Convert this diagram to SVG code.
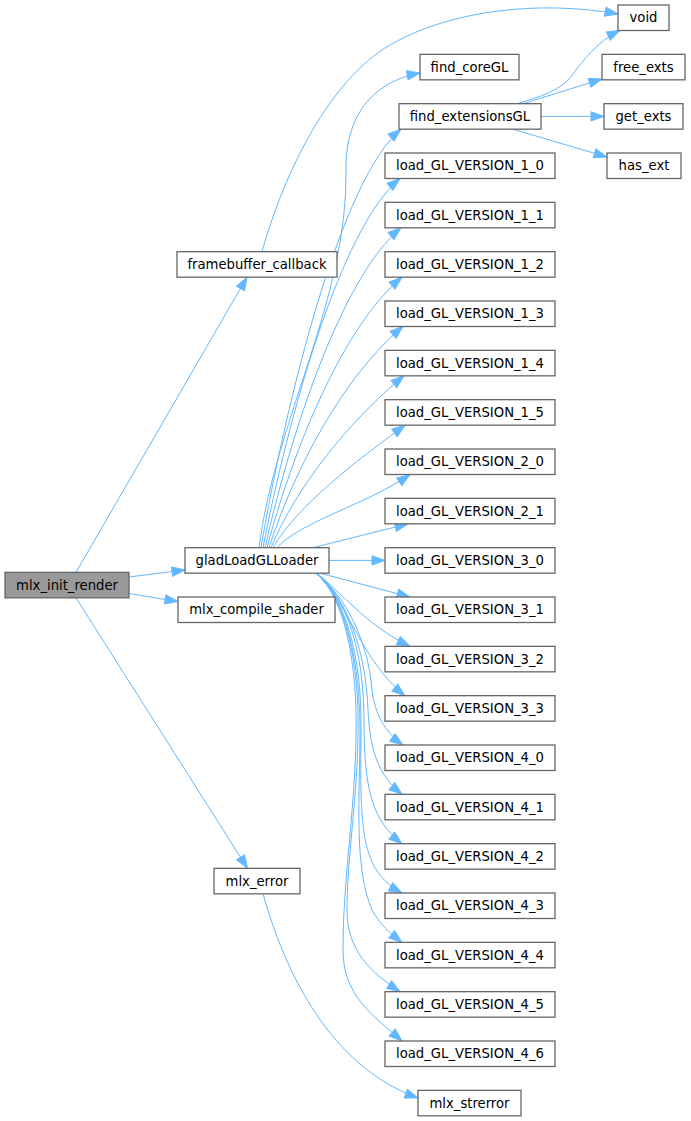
<svg xmlns="http://www.w3.org/2000/svg" width="691" height="1121" viewBox="0 0 691 1121">
<style>
.n rect{fill:#ffffff;stroke:#666666;stroke-width:1.3}
.n.hl rect{fill:#999999}
.n text{font-family:"DejaVu Sans","Liberation Sans",sans-serif;font-size:13.2px;text-anchor:middle;fill:#000000}
.e{fill:none;stroke:#63b8ff;stroke-width:1;marker-end:url(#ah)}
</style>
<defs>
<marker id="ah" markerUnits="userSpaceOnUse" viewBox="0 0 14 10" markerWidth="14" markerHeight="10" refX="13" refY="5" orient="auto" overflow="visible">
<path d="M0,0.4 L13,5 L0,9.6 z" fill="#63b8ff" stroke="#63b8ff" stroke-width="1"/>
</marker>
</defs>
<rect x="0" y="0" width="691" height="1121" fill="#ffffff"/>
<g id="edges">
<path class="e" d="M76,572.3 L247,277.2"/>
<path class="e" d="M129,577 L185,570"/>
<path class="e" d="M129,593.5 L178,601.5"/>
<path class="e" d="M76,597.8 L247.5,868.3"/>
<path class="e" d="M262,251.7 C285,170 330,80 390,45 C450,10 540,0 618,14"/>
<path class="e" d="M517,103.7 C540,97 560,90 570,78 C582,62 596,42 620,30.5"/>
<path class="e" d="M523,103.7 L602,79"/>
<path class="e" d="M541,116.4 L604,116.4"/>
<path class="e" d="M513,129.2 L607,157"/>
<path class="e" d="M259,547.7 C275,420 348,300 346,170 C345,125 365,83 420,73"/>
<path class="e" d="M261,547.7 C286,401 341,179 401,129.2"/>
<path class="e" d="M263,547.7 C288,418.5 340,228.5 400,178.5"/>
<path class="e" d="M265,547.7 C290,436 341,277.8 401,227.8"/>
<path class="e" d="M267,547.7 C292,453 342,327 402,277.2"/>
<path class="e" d="M269,547.7 C294,470 343,376.5 403,326.5"/>
<path class="e" d="M271,547.7 C296,487 350,420 404,375.8"/>
<path class="e" d="M273,547.7 C298,505 355,462 405,425.2"/>
<path class="e" d="M277,547.7 C300,522 365,505 410,474.5"/>
<path class="e" d="M313,547.7 L408,523.8"/>
<path class="e" d="M329,560.4 L385,560.4"/>
<path class="e" d="M320,573.2 L410,597"/>
<path class="e" d="M316,573.2 C340,590 365,625 410,646.3"/>
<path class="e" d="M316,573.2 C345,595 360,660 405,695.7"/>
<path class="e" d="M317,573.2 C345,596 368,640 372,690 C375,715 385,732 403,745"/>
<path class="e" d="M317,573.2 C346,597 366,650 368,710 C370,750 378,775 402,794.3"/>
<path class="e" d="M317,573.2 C346,597 364,650 364,720 C364,790 372,820 402,843.7"/>
<path class="e" d="M316,573.2 C345,597 362,655 361,730 C360,830 360,870 402,893"/>
<path class="e" d="M316,573.2 C345,597 361,660 360,740 C359,810 355,870 372,910 C380,925 390,933 402,942.3"/>
<path class="e" d="M316,573.2 C345,597 360,662 358,740 C356,810 347,860 347,910 C347,950 370,972 400,991.7"/>
<path class="e" d="M316,573.2 C345,597 358,665 356,740 C354,820 343,880 343,950 C343,995 372,1015 402,1041"/>
<path class="e" d="M263,893.8 C290,990 340,1070 418,1098"/>
</g>
<g id="node-mlx_init_render" class="n hl"><rect x="5" y="572.33" width="124" height="25.5"/><text x="67" y="589.6">mlx_init_render</text></g>
<g id="node-framebuffer_callback" class="n"><rect x="177" y="251.67" width="160" height="25.5"/><text x="257" y="269">framebuffer_callback</text></g>
<g id="node-gladLoadGLLoader" class="n"><rect x="185" y="547.67" width="144" height="25.5"/><text x="257" y="565">gladLoadGLLoader</text></g>
<g id="node-mlx_compile_shader" class="n"><rect x="178" y="597" width="157" height="25.5"/><text x="256.5" y="614.3">mlx_compile_shader</text></g>
<g id="node-mlx_error" class="n"><rect x="214" y="868.33" width="86" height="25.5"/><text x="257" y="885.6">mlx_error</text></g>
<g id="node-void" class="n"><rect x="618" y="5" width="51" height="25.5"/><text x="643.5" y="22.3">void</text></g>
<g id="node-find_coreGL" class="n"><rect x="420" y="54.33" width="99" height="25.5"/><text x="469.5" y="71.6">find_coreGL</text></g>
<g id="node-find_extensionsGL" class="n"><rect x="399" y="103.67" width="142" height="25.5"/><text x="470" y="121">find_extensionsGL</text></g>
<g id="node-free_exts" class="n"><rect x="602" y="54.33" width="83" height="25.5"/><text x="643.5" y="71.6">free_exts</text></g>
<g id="node-get_exts" class="n"><rect x="604" y="103.67" width="79" height="25.5"/><text x="643.5" y="121">get_exts</text></g>
<g id="node-has_ext" class="n"><rect x="607" y="153" width="74" height="25.5"/><text x="644" y="170.3">has_ext</text></g>
<g id="node-load_GL_VERSION_1_0" class="n"><rect x="385" y="153" width="170" height="25.5"/><text x="470" y="170.3">load_GL_VERSION_1_0</text></g>
<g id="node-load_GL_VERSION_1_1" class="n"><rect x="385" y="202.33" width="170" height="25.5"/><text x="470" y="219.6">load_GL_VERSION_1_1</text></g>
<g id="node-load_GL_VERSION_1_2" class="n"><rect x="385" y="251.67" width="170" height="25.5"/><text x="470" y="269">load_GL_VERSION_1_2</text></g>
<g id="node-load_GL_VERSION_1_3" class="n"><rect x="385" y="301" width="170" height="25.5"/><text x="470" y="318.3">load_GL_VERSION_1_3</text></g>
<g id="node-load_GL_VERSION_1_4" class="n"><rect x="385" y="350.33" width="170" height="25.5"/><text x="470" y="367.6">load_GL_VERSION_1_4</text></g>
<g id="node-load_GL_VERSION_1_5" class="n"><rect x="385" y="399.67" width="170" height="25.5"/><text x="470" y="417">load_GL_VERSION_1_5</text></g>
<g id="node-load_GL_VERSION_2_0" class="n"><rect x="385" y="449" width="170" height="25.5"/><text x="470" y="466.3">load_GL_VERSION_2_0</text></g>
<g id="node-load_GL_VERSION_2_1" class="n"><rect x="385" y="498.33" width="170" height="25.5"/><text x="470" y="515.6">load_GL_VERSION_2_1</text></g>
<g id="node-load_GL_VERSION_3_0" class="n"><rect x="385" y="547.67" width="170" height="25.5"/><text x="470" y="565">load_GL_VERSION_3_0</text></g>
<g id="node-load_GL_VERSION_3_1" class="n"><rect x="385" y="597" width="170" height="25.5"/><text x="470" y="614.3">load_GL_VERSION_3_1</text></g>
<g id="node-load_GL_VERSION_3_2" class="n"><rect x="385" y="646.33" width="170" height="25.5"/><text x="470" y="663.6">load_GL_VERSION_3_2</text></g>
<g id="node-load_GL_VERSION_3_3" class="n"><rect x="385" y="695.67" width="170" height="25.5"/><text x="470" y="713">load_GL_VERSION_3_3</text></g>
<g id="node-load_GL_VERSION_4_0" class="n"><rect x="385" y="745" width="170" height="25.5"/><text x="470" y="762.3">load_GL_VERSION_4_0</text></g>
<g id="node-load_GL_VERSION_4_1" class="n"><rect x="385" y="794.33" width="170" height="25.5"/><text x="470" y="811.6">load_GL_VERSION_4_1</text></g>
<g id="node-load_GL_VERSION_4_2" class="n"><rect x="385" y="843.67" width="170" height="25.5"/><text x="470" y="861">load_GL_VERSION_4_2</text></g>
<g id="node-load_GL_VERSION_4_3" class="n"><rect x="385" y="893" width="170" height="25.5"/><text x="470" y="910.3">load_GL_VERSION_4_3</text></g>
<g id="node-load_GL_VERSION_4_4" class="n"><rect x="385" y="942.33" width="170" height="25.5"/><text x="470" y="959.6">load_GL_VERSION_4_4</text></g>
<g id="node-load_GL_VERSION_4_5" class="n"><rect x="385" y="991.67" width="170" height="25.5"/><text x="470" y="1009">load_GL_VERSION_4_5</text></g>
<g id="node-load_GL_VERSION_4_6" class="n"><rect x="385" y="1041" width="170" height="25.5"/><text x="470" y="1058.3">load_GL_VERSION_4_6</text></g>
<g id="node-mlx_strerror" class="n"><rect x="418" y="1090.33" width="103" height="25.5"/><text x="469.5" y="1107.6">mlx_strerror</text></g>
</svg>
